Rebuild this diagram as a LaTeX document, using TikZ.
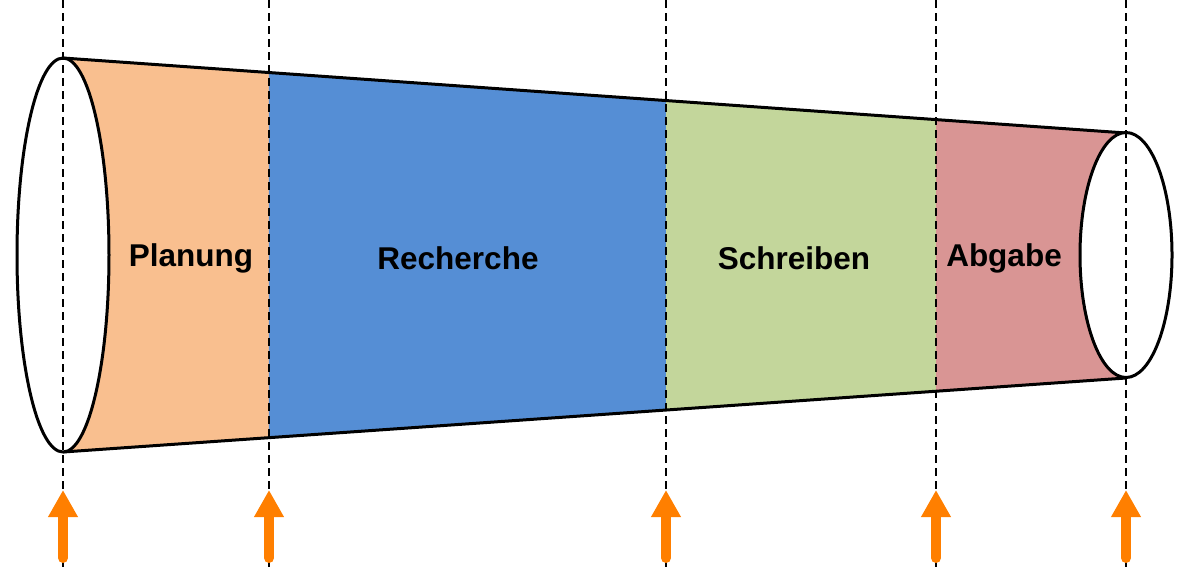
\documentclass[tikz,border=0pt]{standalone}
\usepackage{fontspec}
\setmainfont{Liberation Sans}
\usetikzlibrary{arrows.meta,calc}
\definecolor{cOrange}{HTML}{F9BF8F}
\definecolor{cBlue}{HTML}{558ED5}
\definecolor{cGreen}{HTML}{C3D69B}
\definecolor{cRed}{HTML}{D99594}
\definecolor{cArrow}{HTML}{FF7F00}
\tikzset{
  outline/.style={draw=black,line width=3pt,line join=round},
  guide/.style={draw=black,line width=2.4pt,dash pattern=on 8pt off 5pt},
  upmark/.style={draw=cArrow,line width=10pt,line cap=round,-{Triangle[width=28pt,length=27pt]}},
  phase/.style={font=\fontsize{31.5}{36}\selectfont\bfseries,inner sep=0pt},
}
\begin{document}
\begin{tikzpicture}[x=1pt,y=-1pt]
\useasboundingbox (0,0) rectangle (1177,571);
% main corner coordinates
\coordinate (TL) at (63,58);
\coordinate (BL) at (63,452);
\coordinate (TR) at (1126,133);
\coordinate (BR) at (1126,378);
% boundary points
\foreach \n/\x in {a/269,b/666,c/936}{
  \coordinate (T\n) at ($(TL)!{(\x-63)/1063}!(TR)$);
  \coordinate (B\n) at ($(BL)!{(\x-63)/1063}!(BR)$);
}
% fills
\fill[cOrange] (TL) -- (Ta) -- (Ba) -- (BL) -- cycle;
\fill[cBlue] (Ta) -- (Tb) -- (Bb) -- (Ba) -- cycle;
\fill[cGreen] (Tb) -- (Tc) -- (Bc) -- (Bb) -- cycle;
\fill[cRed] (Tc) -- (TR) -- (BR) -- (Bc) -- cycle;
% outline
\draw[outline] (TL) -- (TR);
\draw[outline] (BL) -- (BR);
\draw[outline,fill=white] (63,255) ellipse [x radius=46,y radius=197];
\draw[outline,fill=white] (1126,255) ellipse [x radius=46,y radius=122.5];
% labels
\node[phase] (plan) at (191,258) {Planung};
\node[phase] (rech) at (458,258) {Recherche};
\node[phase] (schr) at (794,258) {Schreiben};
\node[phase] (abg) at (1004,258) {Abgabe};
% guides and arrows
\foreach \n/\x in {1/63,2/269,3/666,4/936,5/1126}{
  \coordinate (g\n top) at (\x,0);
  \coordinate (g\n bot) at (\x,571);
  \draw[guide] (g\n top) -- (g\n bot);
  \coordinate (m\n s) at (\x,558);
  \coordinate (m\n e) at (\x,490);
  \draw[upmark] (m\n s) -- (m\n e);
}
\end{tikzpicture}
\end{document}
